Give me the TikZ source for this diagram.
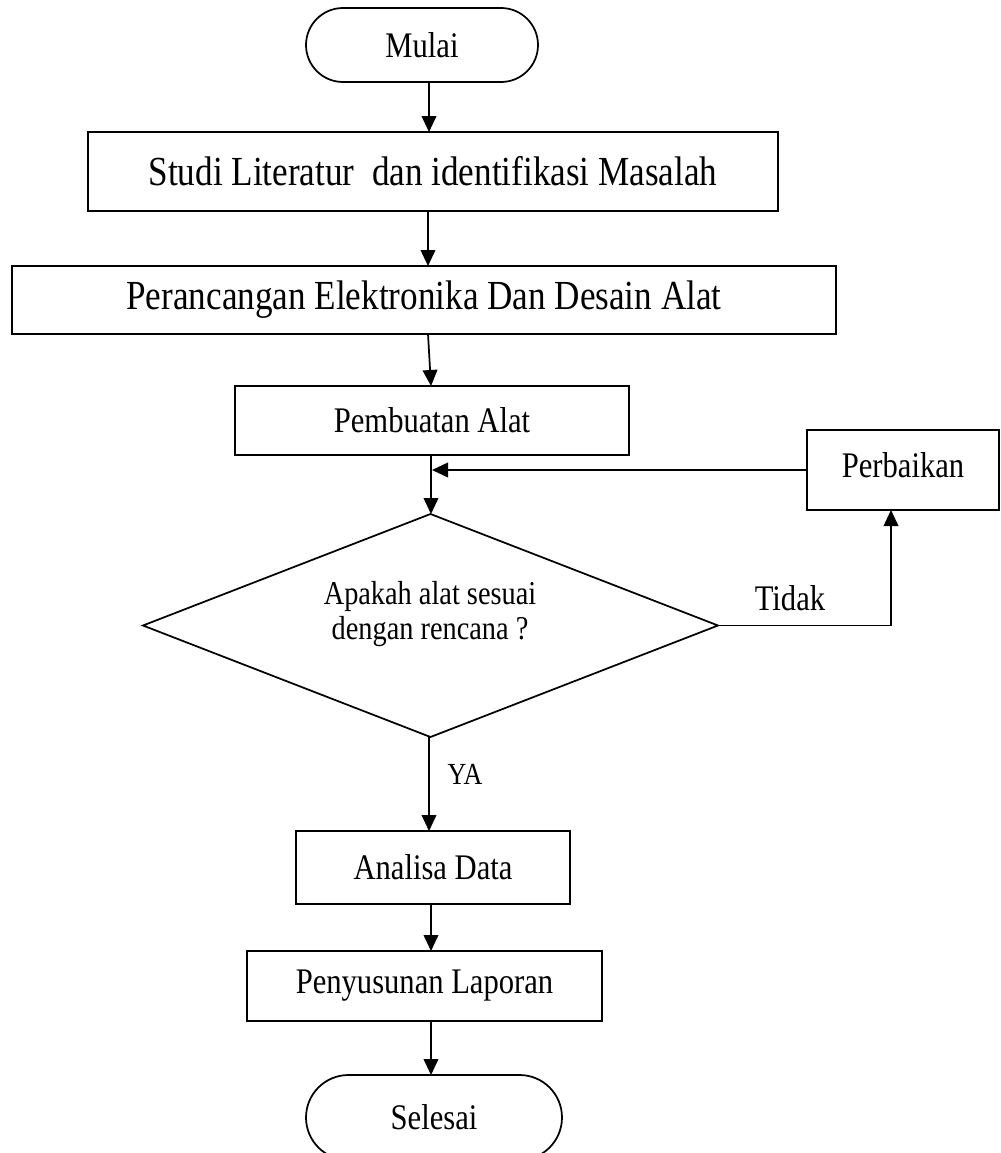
\documentclass[tikz,border=0pt]{standalone}
\usepackage{fontspec}
\setmainfont{Liberation Serif}
\usepackage{graphicx}
\usetikzlibrary{arrows.meta,shapes.geometric,calc}
\newlength\pxu
\setlength\pxu{0.75pt}
\newcommand\sqz[1]{\scalebox{0.85}[1]{#1}}
\begin{document}
\begin{tikzpicture}[x=0.75pt, y=-0.75pt,
  every node/.style={inner sep=0pt, outer sep=0pt},
  box/.style={draw, line width=1.3pt},
  term/.style={draw, line width=1.3pt},
  arr/.style={line width=1.3pt, -{Triangle[length=12pt,width=11pt]}},
  big/.style={font=\fontsize{27}{32}\selectfont},
  bigger/.style={font=\fontsize{31}{36}\selectfont},
  small/.style={font=\fontsize{25}{26.5}\selectfont},
  tiny/.style={font=\fontsize{23}{26}\selectfont}
]
\useasboundingbox (0,0) rectangle (1000,1153);

% nodes
\node[term, big, rounded corners=37\pxu, minimum width=232\pxu, minimum height=74\pxu] (mulai) at (422,45) {\sqz{Mulai}};
\node[box, bigger, minimum width=690\pxu, minimum height=79\pxu] (b1) at (433,171.5) {\sqz{Studi Literatur\ \ dan identifikasi Masalah}};
\node[box, bigger, minimum width=824\pxu, minimum height=68\pxu] (b2) at (424,300) {\sqz{Perancangan Elektronika Dan Desain Alat}};
\node[box, big, minimum width=394\pxu, minimum height=69\pxu] (b3) at (432,420.5) {\sqz{Pembuatan Alat}};
\node[box, big, minimum width=192\pxu, minimum height=80\pxu] (perb) at (903,470) {\sqz{\raisebox{8pt}{Perbaikan}}};
\node[draw, line width=1.3pt, shape=diamond, minimum width=575\pxu, minimum height=223\pxu] (dia) at (430.5,625.5) {};
\node[small, align=center, xscale=0.85, transform shape] (dtext) at (430,614) {Apakah alat sesuai\\dengan rencana ?};
\node[box, big, minimum width=274\pxu, minimum height=73\pxu] (ana) at (433,867.5) {\sqz{Analisa Data}};
\node[box, big, minimum width=355\pxu, minimum height=70\pxu] (peny) at (424.5,986) {\sqz{Penyusunan Laporan}};
\node[term, big, rounded corners=42.5\pxu, minimum width=256\pxu, minimum height=85\pxu] (sel) at (434,1117.5) {\sqz{Selesai}};
\node[tiny, xscale=0.85, transform shape] (ya) at (465,774) {YA};
\node[big, xscale=0.85, transform shape] (tidak) at (790,598) {Tidak};

% connector x positions
\coordinate (cA) at (429,0);
\coordinate (cB) at (428,0);
\coordinate (cC) at (431,0);
\coordinate (cD) at (432,0);
\coordinate (cR) at (891,0);

% connectors
\draw[arr] (mulai.south -| cA) -- (b1.north -| cA);
\draw[arr] (b1.south -| cB) -- (b2.north -| cB);
\draw[arr] (b2.south -| cB) -- (b3.north -| cC);
\draw[arr] (b3.south -| cC) -- (dia.north -| cC);
\draw[arr] (perb.west) -- (perb.west -| cD);
\draw[arr] (dia.east) -- (dia.east -| cR) -- (perb.south -| cR);
\draw[arr] (dia.south -| cA) -- (ana.north -| cA);
\draw[arr] (ana.south -| cC) -- (peny.north -| cC);
\draw[arr] (peny.south -| cC) -- (sel.north -| cC);
\end{tikzpicture}
\end{document}
